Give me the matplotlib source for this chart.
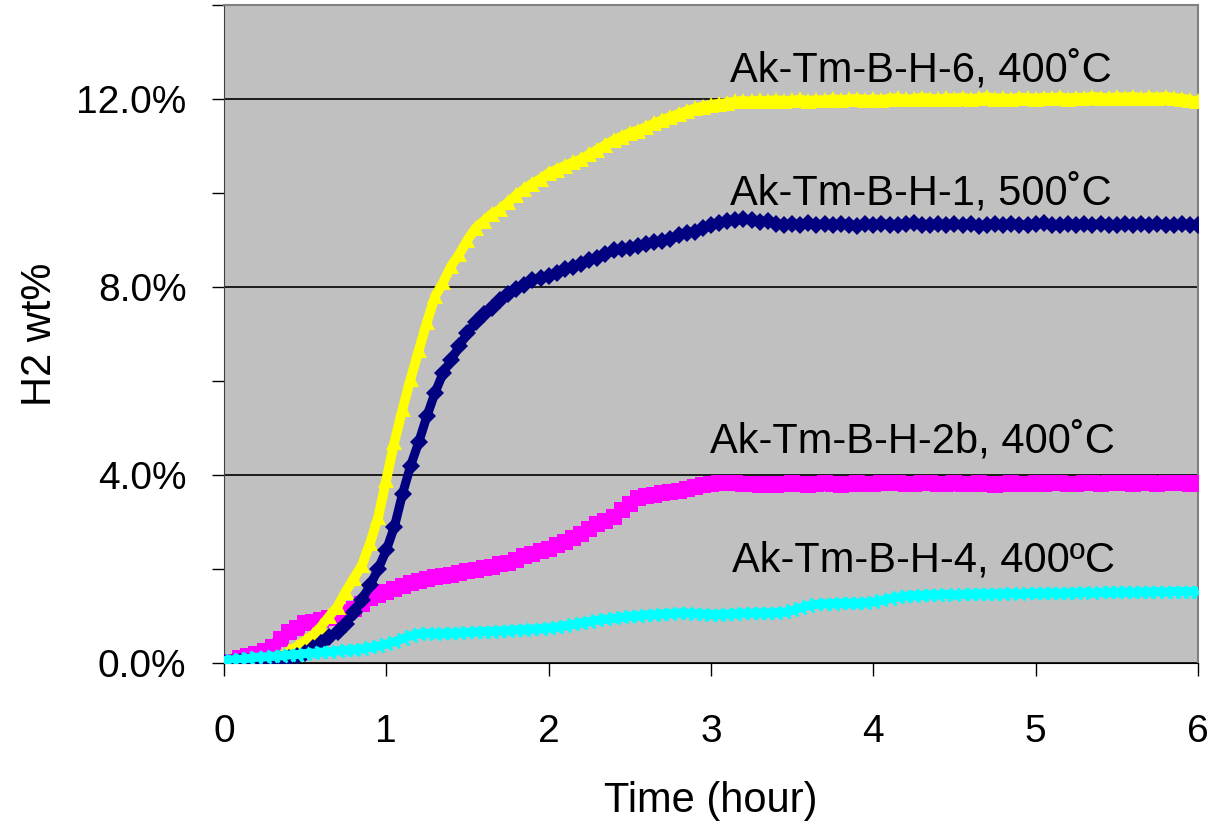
import matplotlib
matplotlib.use("Agg")
import matplotlib.pyplot as plt
import numpy as np
from matplotlib.ticker import MultipleLocator, PercentFormatter

plt.rcParams['font.family'] = ['Liberation Sans', 'DejaVu Sans']

# sampling clock of the logger, hours (every 3 min)
time_h = np.linspace(0, 6, 121)

# H2 wt%
h6_400 = [0.00, 0.00, 0.00, 0.00, 0.00, 0.02, 0.05, 0.12, 0.25, 0.35,
          0.47, 0.60, 0.78, 1.00, 1.20, 1.52, 1.80, 2.08, 2.55, 3.10,
          3.90, 4.70, 5.40, 6.05, 6.65, 7.25, 7.80, 8.10, 8.45, 8.70,
          9.00, 9.25, 9.40, 9.55, 9.65, 9.80, 9.95, 10.08, 10.20, 10.30,
          10.42, 10.50, 10.58, 10.65, 10.72, 10.82, 10.92, 11.02, 11.12, 11.20,
          11.28, 11.33, 11.40, 11.48, 11.55, 11.62, 11.68, 11.74, 11.80, 11.84,
          11.88, 11.90, 11.92, 11.95, 11.96, 11.95, 11.97, 11.96, 11.98, 11.96,
          11.97, 11.99, 11.96, 11.98, 11.97, 12.00, 11.98, 11.99, 12.01, 11.98,
          12.00, 11.98, 12.01, 12.02, 11.99, 12.00, 12.03, 12.01, 11.99, 12.02,
          12.01, 12.03, 12.00, 12.02, 12.04, 12.01, 12.02, 12.00, 12.03, 12.02,
          12.01, 12.03, 12.02, 12.04, 12.01, 12.03, 12.02, 12.05, 12.03, 12.02,
          12.04, 12.03, 12.05, 12.02, 12.04, 12.03, 12.05, 12.02, 12.01, 11.98,
          11.95]

h1_500 = [0.00, 0.00, 0.02, 0.03, 0.03, 0.03, 0.05, 0.07, 0.10, 0.15,
          0.22, 0.32, 0.43, 0.55, 0.66, 0.82, 1.08, 1.35, 1.65, 2.00,
          2.40, 2.90, 3.60, 4.20, 4.70, 5.25, 5.75, 6.17, 6.45, 6.75,
          7.02, 7.25, 7.42, 7.55, 7.72, 7.85, 7.95, 8.05, 8.15, 8.20,
          8.24, 8.30, 8.38, 8.42, 8.50, 8.58, 8.62, 8.70, 8.78, 8.80,
          8.84, 8.88, 8.92, 8.95, 8.98, 9.02, 9.10, 9.15, 9.18, 9.25,
          9.32, 9.36, 9.40, 9.42, 9.45, 9.42, 9.38, 9.40, 9.34, 9.33,
          9.35, 9.32, 9.36, 9.33, 9.34, 9.31, 9.35, 9.33, 9.30, 9.34,
          9.32, 9.35, 9.33, 9.31, 9.34, 9.36, 9.32, 9.33, 9.35, 9.31,
          9.34, 9.32, 9.35, 9.30, 9.33, 9.34, 9.31, 9.35, 9.33, 9.32,
          9.34, 9.36, 9.33, 9.31, 9.35, 9.33, 9.34, 9.32, 9.35, 9.33,
          9.31, 9.34, 9.33, 9.35, 9.32, 9.34, 9.33, 9.31, 9.34, 9.33,
          9.32]

h2b_400 = [0.00, 0.03, 0.10, 0.15, 0.20, 0.25, 0.35, 0.50, 0.65, 0.75,
           0.85, 0.88, 0.92, 0.95, 1.00, 1.08, 1.15, 1.25, 1.38, 1.45,
           1.52, 1.58, 1.63, 1.70, 1.75, 1.78, 1.82, 1.85, 1.88, 1.92,
           1.95, 1.98, 2.02, 2.05, 2.10, 2.13, 2.20, 2.27, 2.32, 2.38,
           2.43, 2.50, 2.58, 2.67, 2.75, 2.85, 2.95, 3.03, 3.10, 3.25,
           3.38, 3.50, 3.56, 3.58, 3.62, 3.64, 3.66, 3.70, 3.74, 3.78,
           3.81, 3.83, 3.84, 3.82, 3.80, 3.80, 3.79, 3.81, 3.78, 3.80,
           3.82, 3.80, 3.79, 3.81, 3.83, 3.80, 3.78, 3.81, 3.82, 3.80,
           3.81, 3.83, 3.84, 3.82, 3.80, 3.81, 3.83, 3.82, 3.80, 3.81,
           3.83, 3.81, 3.80, 3.82, 3.81, 3.79, 3.80, 3.82, 3.81, 3.80,
           3.82, 3.81, 3.83, 3.82, 3.80, 3.81, 3.82, 3.83, 3.81, 3.82,
           3.83, 3.82, 3.81, 3.83, 3.82, 3.81, 3.82, 3.83, 3.82, 3.81,
           3.82]

h4_400 = [0.05, 0.07, 0.08, 0.10, 0.12, 0.13, 0.14, 0.15, 0.17, 0.18,
          0.20, 0.21, 0.23, 0.24, 0.26, 0.27, 0.28, 0.30, 0.33, 0.36,
          0.40, 0.45, 0.52, 0.58, 0.62, 0.63, 0.62, 0.63, 0.63, 0.64,
          0.65, 0.66, 0.67, 0.67, 0.68, 0.69, 0.70, 0.71, 0.72, 0.73,
          0.74, 0.76, 0.79, 0.82, 0.85, 0.88, 0.91, 0.93, 0.95, 0.97,
          0.99, 1.00, 1.02, 1.03, 1.04, 1.05, 1.06, 1.06, 1.05, 1.04,
          1.03, 1.03, 1.04, 1.05, 1.06, 1.06, 1.06, 1.06, 1.07, 1.08,
          1.12, 1.17, 1.22, 1.25, 1.26, 1.26, 1.27, 1.27, 1.27, 1.28,
          1.30, 1.33, 1.37, 1.40, 1.42, 1.43, 1.44, 1.45, 1.45, 1.46,
          1.45, 1.46, 1.46, 1.47, 1.46, 1.47, 1.47, 1.48, 1.47, 1.48,
          1.48, 1.48, 1.49, 1.48, 1.49, 1.49, 1.50, 1.49, 1.50, 1.50,
          1.50, 1.51, 1.50, 1.51, 1.51, 1.52, 1.51, 1.52, 1.52, 1.52,
          1.52]

labels = ['Ak-Tm-B-H-6, 400\u02daC', 'Ak-Tm-B-H-1, 500\u02daC',
          'Ak-Tm-B-H-2b, 400\u02daC', 'Ak-Tm-B-H-4, 400\u00baC']

fig = plt.figure(figsize=(12.08, 8.24), dpi=100)
ax = fig.add_axes([0.1854, 0.1954, 0.8063, 0.7985])
ax.set_facecolor('#C0C0C0')

# magenta squares at the bottom, cyan crosses on top
ax.plot(time_h, h2b_400, color='#FF00FF', marker='s', ms=11, mew=0, lw=9, zorder=3)
ax.plot(time_h, h6_400, color='#FFFF00', marker='^', ms=12, mew=0, lw=7, zorder=4)
ax.plot(time_h, h1_500, color='#000080', marker='D', ms=9, mew=0, lw=6.5, zorder=5)
ax.plot(time_h, h4_400, color='#00FFFF', marker='x', ms=9, mew=2, lw=6.5, zorder=6)

ax.set_xlim(0, 6)
ax.set_ylim(0, 14)
ax.xaxis.set_major_locator(MultipleLocator(1))
ax.yaxis.set_major_locator(MultipleLocator(4))
ax.yaxis.set_minor_locator(MultipleLocator(2))
ax.yaxis.set_major_formatter(PercentFormatter(xmax=100, decimals=1))
ax.grid(axis='y', which='major', color='black', lw=1.2, zorder=1)
ax.set_axisbelow(True)

ax.tick_params(axis='both', which='both', direction='out', length=9, width=1, color='black')
ax.tick_params(axis='y', which='major', labelsize=28, pad=18)
ax.tick_params(axis='x', labelsize=28, pad=28)

for side in ['top', 'right']:
    ax.spines[side].set_color('#808080')
    ax.spines[side].set_linewidth(1.5)
ax.spines['left'].set_color('#404040')
ax.spines['bottom'].set_color('black')

ax.set_xlabel('Time (hour)', fontsize=30, labelpad=22)
ax.set_ylabel('H2 wt%', fontsize=30)
ax.yaxis.set_label_coords(-0.168, 0.5)

# curve labels, right-aligned on the baseline
ax.text(5.47, 12.38, labels[0], fontsize=30, ha='right', va='baseline')
ax.text(5.47, 9.76, labels[1], fontsize=30, ha='right', va='baseline')
ax.text(5.49, 4.48, labels[2], fontsize=30, ha='right', va='baseline')
ax.text(5.49, 1.94, labels[3], fontsize=30, ha='right', va='baseline')

plt.savefig('out.png', dpi=100)
